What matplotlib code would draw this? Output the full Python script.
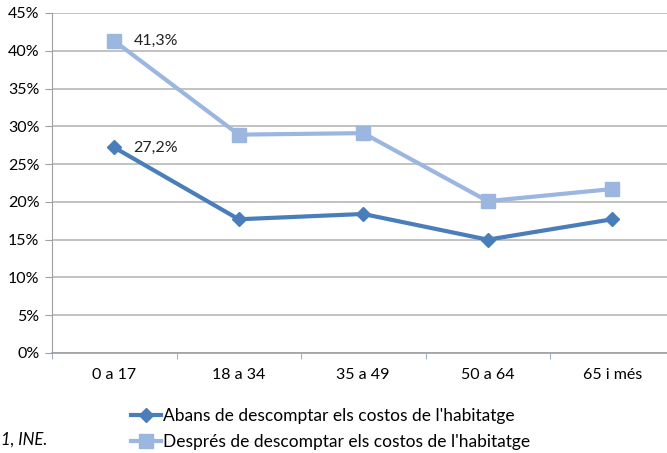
import matplotlib
matplotlib.use("Agg")
import matplotlib.pyplot as plt
from matplotlib.ticker import FuncFormatter, MultipleLocator
from matplotlib.lines import Line2D

categories = ["0 a 17", "18 a 34", "35 a 49", "50 a 64", "65 i més"]
abans = [27.2, 17.7, 18.4, 15.0, 17.7]
despres = [41.3, 28.9, 29.1, 20.1, 21.7]
label_abans = "Abans de descomptar els costos de l'habitatge"
label_despres = "Després de descomptar els costos de l'habitatge"

plt.rcParams['font.family'] = ['Lato', 'DejaVu Sans']

W, H = 667, 453
fig = plt.figure(figsize=(W/100, H/100), dpi=100)
left, right, top, bottom = 52, 674.5, 13, 353
ax = fig.add_axes([left/W, 1-bottom/H, (right-left)/W, (bottom-top)/H])

c_dark = "#4a7ebb"
c_light = "#9bb7e0"
x = list(range(len(categories)))
ax.plot(x, despres, color=c_light, lw=3, marker='s', ms=10, zorder=3)
ax.plot(x, abans, color=c_dark, lw=3, marker='D', ms=7, zorder=4)

ax.annotate("41,3%", (0, despres[0]), xytext=(14, 0), textcoords='offset points',
            va='center', ha='left', fontsize=11.5, color='#222222')
ax.annotate("27,2%", (0, abans[0]), xytext=(14, 0), textcoords='offset points',
            va='center', ha='left', fontsize=11.5, color='#222222')

ax.set_xlim(-0.5, len(categories)-0.5)
ax.set_ylim(0, 45)
ax.yaxis.set_major_locator(MultipleLocator(5))
ax.yaxis.set_major_formatter(FuncFormatter(lambda v, p: f"{int(round(v))}%"))
ax.set_xticks([i-0.5 for i in range(len(categories))])
ax.set_xticklabels([])
ax.set_xticks(x, minor=True)
ax.set_xticklabels(categories, minor=True)
ax.tick_params(axis='x', which='minor', length=0, labelsize=11.5, pad=11)
ax.tick_params(axis='x', which='major', length=4, color='#a0b4c8', direction='out')
ax.tick_params(axis='y', length=5, color='#a0a0a0', labelsize=11.5, pad=4)
ax.grid(axis='y', color='#b8b8b8', lw=1.2)
ax.set_axisbelow(True)
for s in ['top', 'right']:
    ax.spines[s].set_visible(False)
ax.spines['left'].set_color('#a0a0a0')
ax.spines['bottom'].set_color('#a0a0a0')
ax.spines['bottom'].set_linewidth(1.2)

handles = [Line2D([], [], color=c_dark, lw=3, marker='D', ms=7),
           Line2D([], [], color=c_light, lw=3, marker='s', ms=10)]
fig.legend(handles, [label_abans, label_despres], loc='upper left',
           bbox_to_anchor=(122/W, 1-399/H), frameon=False, fontsize=12.5,
           handlelength=1.75, handletextpad=0.1, labelspacing=0.6, borderpad=0)

fig.text(1/W, 1-440/H, "1, INE.", fontsize=12, style='italic', va='center', ha='left')

fig.savefig("out.png", dpi=100)
